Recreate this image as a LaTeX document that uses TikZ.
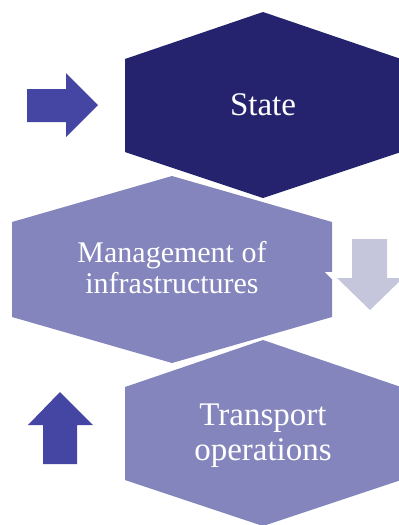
\documentclass[tikz,border=0pt]{standalone}
\usepackage{fontspec}
\setmainfont{Liberation Serif}
\definecolor{navy}{HTML}{25236E}
\definecolor{lav}{HTML}{8585BD}
\definecolor{arrowblue}{HTML}{4545A3}
\definecolor{arrowlight}{HTML}{C5C5DB}
\begin{document}
\begin{tikzpicture}[x=1pt,y=-1pt,
  hexnavy/.style={fill=navy},
  hexlav/.style={fill=lav},
  label/.style={text=white,inner sep=0pt,anchor=base},
  bigtxt/.style={label,font=\fontsize{33}{35}\selectfont},
  midtxt/.style={label,font=\fontsize{30}{31}\selectfont}]
\useasboundingbox (0,0) rectangle (399,525);
\begin{scope}
\clip (0,0) rectangle (399,525);
% hexagons
\fill[hexnavy] (263,12) -- (401,59) -- (401,152) -- (263,198) -- (125,152) -- (125,59) -- cycle;
\fill[hexlav] (172,176) -- (332,222) -- (332,317) -- (172,363) -- (12,317) -- (12,222) -- cycle;
\fill[hexlav] (263,340) -- (401,387) -- (401,480) -- (263,526) -- (125,480) -- (125,387) -- cycle;
\fill[white] (325,272) -- (333,272) -- (333,280) -- cycle;
% arrows
\fill[arrowblue] (27,89) -- (66,89) -- (66,73) -- (98,105) -- (66,137) -- (66,122) -- (27,122) -- cycle;
\fill[arrowlight] (352,239) -- (387,239) -- (387,278) -- (403,278) -- (370,310) -- (337,278) -- (352,278) -- cycle;
\fill[arrowblue] (43,464) -- (43,425) -- (28,425) -- (60,392) -- (93,425) -- (77,425) -- (77,464) -- cycle;
\end{scope}
% texts
\node[bigtxt] (state) at (263,115) {State};
\node[midtxt] (mgmt1) at (172,262) {Management of};
\node[midtxt] (mgmt2) at (172,293) {infrastructures};
\node[bigtxt] (trans1) at (263,425) {Transport};
\node[bigtxt] (trans2) at (263,460) {operations};
\end{tikzpicture}
\end{document}
